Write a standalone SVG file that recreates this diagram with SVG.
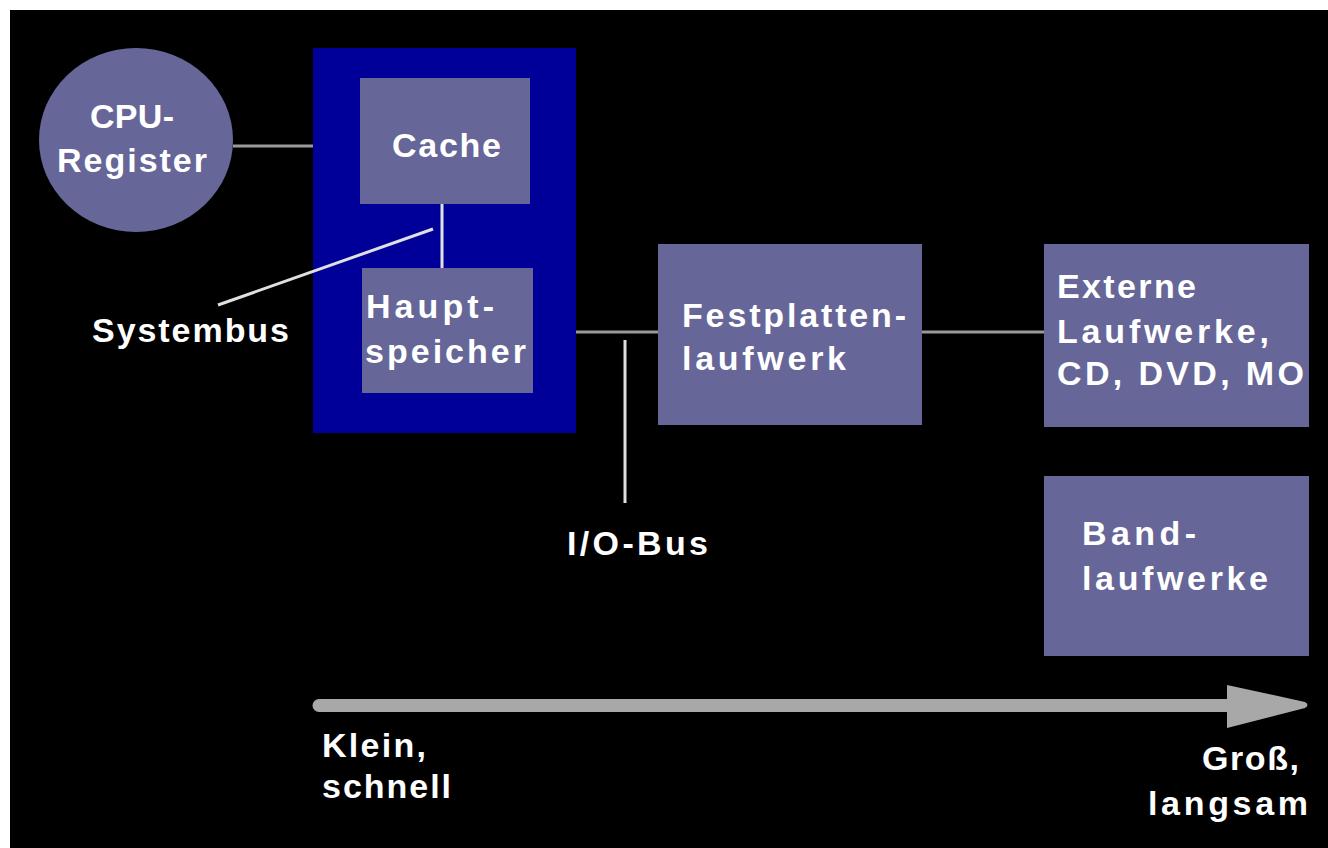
<svg xmlns="http://www.w3.org/2000/svg" width="1328" height="848" viewBox="0 0 1328 848">
<style>
.t{font-family:"Liberation Sans",Arial,sans-serif;font-weight:bold;font-size:34px;fill:#ffffff}
.n{fill:#666699}
.g{stroke:#9a9a9a;stroke-width:3;fill:none}
.w{stroke:#e0e0e0;stroke-width:3;fill:none}
</style>
<rect x="0" y="0" width="1328" height="848" fill="#ffffff"/>
<rect x="10" y="10" width="1318" height="838" fill="#000000"/>
<g id="cpu-register">
<ellipse class="n" cx="136" cy="140" rx="97" ry="92"/>
<text class="t" x="132" y="128" text-anchor="middle" textLength="84">CPU-</text>
<text class="t" x="132" y="172" text-anchor="middle" textLength="150">Register</text>
</g>
<g id="memory-group">
<rect x="313" y="48" width="263" height="385" fill="#000099"/>
</g>
<g id="cache">
<rect class="n" x="360" y="78" width="170" height="126"/>
<text class="t" x="392" y="157" textLength="109">Cache</text>
</g>
<g id="hauptspeicher">
<rect class="n" x="362" y="268" width="171" height="125"/>
<text class="t" x="366" y="318" textLength="128">Haupt-</text>
<text class="t" x="365" y="363" textLength="161">speicher</text>
</g>
<g id="systembus-label">
<text class="t" x="92" y="342" textLength="197">Systembus</text>
</g>
<g id="festplatten">
<rect class="n" x="658" y="244" width="264" height="181"/>
<text class="t" x="682" y="327" textLength="224">Festplatten-</text>
<text class="t" x="682" y="370" textLength="164">laufwerk</text>
</g>
<g id="io-bus-label">
<text class="t" x="567" y="555" textLength="141">I/O-Bus</text>
</g>
<g id="externe">
<rect class="n" x="1044" y="244" width="265" height="183"/>
<text class="t" x="1057" y="298" textLength="139">Externe</text>
<text class="t" x="1057" y="343" textLength="212">Laufwerke,</text>
<text class="t" x="1057" y="385" textLength="247">CD, DVD, MO</text>
</g>
<g id="band">
<rect class="n" x="1044" y="476" width="265" height="180"/>
<text class="t" x="1082" y="545" textLength="114">Band-</text>
<text class="t" x="1082" y="590" textLength="186">laufwerke</text>
</g>
<g id="connectors">
<line class="g" x1="233" y1="146" x2="313" y2="146"/>
<line class="w" x1="442" y1="204" x2="442" y2="268"/>
<line class="w" x1="433" y1="229" x2="218" y2="305"/>
<line class="g" x1="576" y1="332" x2="658" y2="332"/>
<line class="w" x1="625" y1="340" x2="625" y2="503"/>
<line class="g" x1="922" y1="332" x2="1044" y2="332"/>
</g>
<g id="axis">
<path d="M319,699 L1228,699 L1228,712 L319,712 A6.5,6.5 0 0 1 319,699 Z" fill="#a8a8a8"/>
<path d="M1227,685 L1305,702 Q1310,705 1305,708 L1227,728 Z" fill="#a8a8a8"/>
<text class="t" x="322" y="757" textLength="104">Klein,</text>
<text class="t" x="322" y="798" textLength="129">schnell</text>
<text class="t" x="1202" y="770" textLength="97">Groß,</text>
<text class="t" x="1148" y="815" textLength="160">langsam</text>
</g>
</svg>
